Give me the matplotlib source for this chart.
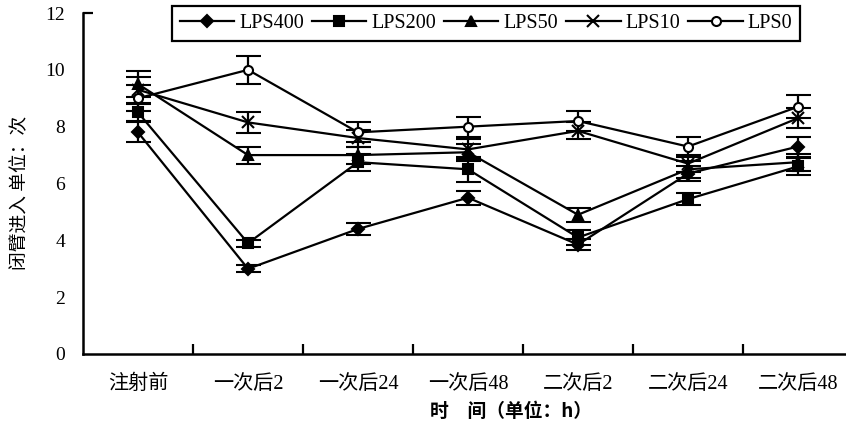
import matplotlib
matplotlib.use("Agg")
import matplotlib.pyplot as plt
from matplotlib.lines import Line2D
import numpy as np

categories = ["注射前", "一次后2", "一次后24", "一次后48", "二次后2", "二次后24", "二次后48"]
series_names = ["LPS400", "LPS200", "LPS50", "LPS10", "LPS0"]
lps400 = [7.8, 3.0, 4.4, 5.5, 3.85, 6.35, 7.3]
lps200 = [8.5, 3.9, 6.75, 6.5, 4.1, 5.45, 6.6]
lps50 = [9.5, 7.0, 7.0, 7.1, 4.9, 6.5, 6.75]
lps10 = [9.3, 8.15, 7.6, 7.2, 7.85, 6.7, 8.3]
lps0 = [9.0, 10.0, 7.8, 8.0, 8.2, 7.3, 8.7]
err400 = [0.35, 0.12, 0.2, 0.25, 0.2, 0.25, 0.35]
err200 = [0.3, 0.12, 0.3, 0.45, 0.25, 0.2, 0.3]
err50 = [0.45, 0.3, 0.3, 0.3, 0.25, 0.3, 0.3]
err10 = [0.45, 0.38, 0.3, 0.35, 0.3, 0.3, 0.35]
err0 = [0.45, 0.5, 0.35, 0.35, 0.35, 0.35, 0.4]
yticks = [0, 2, 4, 6, 8, 10, 12]

values = [lps400, lps200, lps50, lps10, lps0]
errors = [err400, err200, err50, err10, err0]
markers = ["D", "s", "^", "x", "o"]
msizes = [6.5, 6.5, 7.5, 8, 6.5]
mfaces = ["black", "black", "black", "black", "white"]

W, H = 846, 428
fig = plt.figure(figsize=(W / 100, H / 100), dpi=100)
ax = fig.add_axes([83 / W, 1 - 354 / H, (853 - 83) / W, (354 - 13) / H])

x = np.arange(len(categories))
handles = []
for name, v, e, m, ms, mf in zip(series_names, values, errors, markers, msizes, mfaces):
    ax.errorbar(x, v, yerr=e, color="black", lw=1.6, marker=m, markersize=ms,
                markerfacecolor=mf, markeredgecolor="black", markeredgewidth=1.5,
                capsize=9, capthick=1.6, elinewidth=1.6)
    handles.append(Line2D([], [], color="black", lw=1.6, marker=m, markersize=ms,
                          markerfacecolor=mf, markeredgecolor="black",
                          markeredgewidth=1.5, label=name))

ax.set_xlim(-0.5, 6.5)
ax.set_ylim(0, 12)
ax.set_yticks(yticks)
ax.set_yticklabels([str(t) for t in yticks], family="Liberation Serif", fontsize=14)
ax.set_xticks(x)
ax.set_xticklabels(categories, family=["Liberation Serif", "Noto Sans CJK SC"], fontsize=14.5)
ax.set_xticks(x[:-1] + 0.5, minor=True)
ax.tick_params(axis="x", which="major", length=0, pad=15)
ax.tick_params(axis="x", which="minor", direction="in", length=7, width=1.6)
ax.tick_params(axis="y", which="major", direction="in", length=0, width=1.6, pad=13)
ax.yaxis.get_major_ticks()[-1].tick1line.set_markersize(7)

for s in ["top", "right"]:
    ax.spines[s].set_visible(False)
for s in ["left", "bottom"]:
    ax.spines[s].set_linewidth(1.8)

leg = ax.legend(handles=handles, loc="upper center", bbox_to_anchor=(486 / W, 1 - 6 / H),
                bbox_transform=fig.transFigure, ncol=5, frameon=True, fancybox=False,
                edgecolor="black", framealpha=1, borderpad=0.4, handlelength=2.7,
                handletextpad=0.25, columnspacing=0.4, borderaxespad=0,
                prop={"family": "Liberation Serif", "size": 14.5})
leg.get_frame().set_linewidth(1.6)

fig.text(20 / W, 1 - 193 / H, "闭臂进入 单位：次", rotation=90, ha="center", va="center",
         family=["Noto Sans CJK SC", "DejaVu Sans"], fontsize=13.5)
fig.text(430 / W, 1 - 411 / H, "时\u3000间（单位：h）", ha="left", va="center",
         family=["Noto Sans CJK SC"], fontsize=13.5, fontweight="bold")

fig.savefig("out.png", dpi=100)
